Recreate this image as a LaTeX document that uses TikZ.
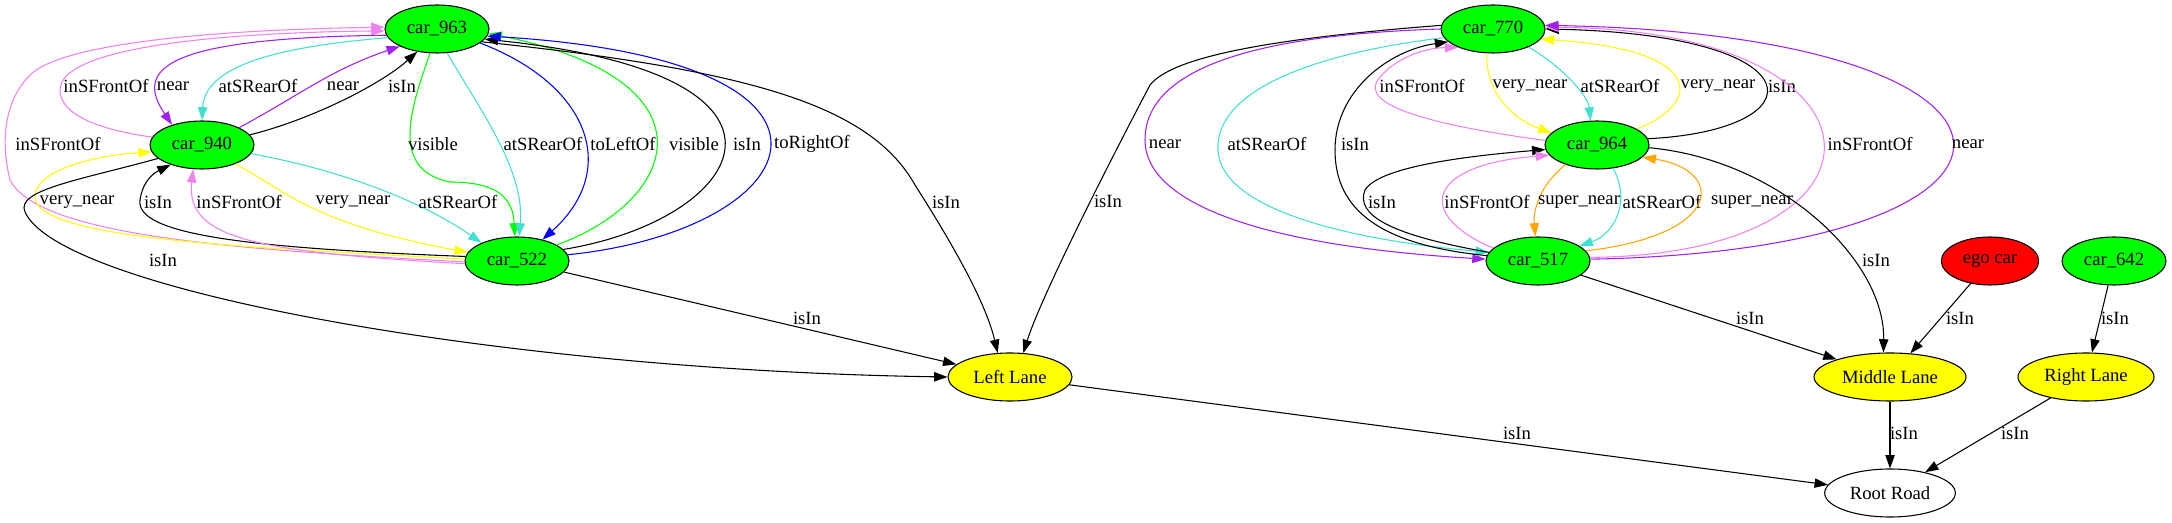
\documentclass[tikz,border=0pt]{standalone}
\usepackage{fontspec}
\setmainfont{Liberation Serif}
\usepackage{tikz}
\usetikzlibrary{shapes.geometric, arrows.meta}
\definecolor{gvGreen}{RGB}{0,255,0}
\definecolor{gvRed}{RGB}{255,0,0}
\definecolor{gvYellow}{RGB}{255,255,0}
\definecolor{gvViolet}{RGB}{238,130,238}
\definecolor{gvPurple}{RGB}{160,32,240}
\definecolor{gvTurquoise}{RGB}{64,224,208}
\definecolor{gvBlue}{RGB}{0,0,255}
\definecolor{gvOrange}{RGB}{255,165,0}
\tikzstyle{carNode} = [ellipse, draw=black, line width=0.8pt, fill=gvGreen, minimum width=78pt, minimum height=36pt, inner sep=0pt]
\tikzstyle{egoNode} = [carNode, fill=gvRed, minimum width=73pt]
\tikzstyle{laneNode} = [ellipse, draw=black, line width=0.8pt, fill=gvYellow, minimum height=36pt, inner sep=0pt]
\tikzstyle{roadNode} = [ellipse, draw=black, line width=0.8pt, fill=white, minimum width=98pt, minimum height=36pt, inner sep=0pt]
\tikzstyle{arrow} = [-{Triangle[length=10pt,width=7pt]}, line width=0.8pt]
\tikzstyle{edgeLabel} = [inner sep=0pt, text=black]

\begin{document}
\begin{tikzpicture}[x=0.75pt, y=-0.75pt, font=\fontsize{14}{17}\selectfont]
\useasboundingbox (0,0) rectangle (2172,523);

% cars and lanes
\node (c963) [carNode] at (437,29) {car\_963};
\node (c940) [carNode] at (202,145) {car\_940};
\node (c522) [carNode] at (517,261) {car\_522};
\node (c770) [carNode] at (1493,29) {car\_770};
\node (c964) [carNode] at (1597,145) {car\_964};
\node (c517) [carNode] at (1538,261) {car\_517};
\node (egoCar) [egoNode] at (1990,261) {ego car};
\node (c642) [carNode] at (2114,261) {car\_642};
\node (lLane) [laneNode, minimum width=93pt] at (1010,377) {Left Lane};
\node (mLane) [laneNode, minimum width=114pt] at (1890,377) {Middle Lane};
\node (rLane) [laneNode, minimum width=102pt] at (2086,377) {Right Lane};
\node (rootRoad) [roadNode] at (1890,493) {Root Road};

% left group
\draw [arrow, gvViolet] (c940.171) .. controls (100,130) and (60,115) .. (60,90) .. controls (60,50) and (200,33) .. (c963.182) node[edgeLabel] at (106,86) {inSFrontOf};
\draw [arrow, gvViolet] (c522.181) .. controls (250,250) and (40,238) .. (10,180) .. controls (0,140) and (5,100) .. (30,75) .. controls (60,45) and (200,30) .. (c963.178) node[edgeLabel] at (58,144) {inSFrontOf};
\draw [arrow, gvPurple] (c963.187) .. controls (160,38) and (135,70) .. (c940.146) node[edgeLabel] at (173,86) {near};
\draw [arrow, gvTurquoise] (c963.190) .. controls (300,45) and (205,60) .. (c940.90) node[edgeLabel] at (258,86) {atSRearOf};
\draw [arrow, gvPurple] (c940.25) .. controls (300,95) and (330,70) .. (c963.205) node[edgeLabel] at (343,86) {near};
\draw [arrow] (c940.12) .. controls (310,120) and (380,85) .. (c963.229) node[edgeLabel] at (402,86) {isIn};
\draw [arrow, gvGreen] (c963.254) .. controls (410,110) and (390,170) .. (450,182) .. controls (500,182) and (513,200) .. (c522.95) node[edgeLabel] at (433,144) {visible};
\draw [arrow, gvTurquoise] (c963.293) .. controls (480,110) and (525,170) .. (c522.85) node[edgeLabel] at (543,144) {atSRearOf};
\draw [arrow, gvBlue] (c963.342) .. controls (590,85) and (620,170) .. (c522.40) node[edgeLabel] at (623,144) {toLeftOf};
\draw [arrow, gvGreen] (c522.22) .. controls (680,200) and (720,80) .. (c963.355) node[edgeLabel] at (694,144) {visible};
\draw [arrow] (c522.14) .. controls (745,220) and (835,75) .. (c963.348) node[edgeLabel] at (747,144) {isIn};
\draw [arrow, gvBlue] (c522.7) .. controls (810,230) and (890,60) .. (c963.352) node[edgeLabel] at (812,144) {toRightOf};
\draw [arrow] (c963.344) .. controls (750,70) and (870,105) .. (915,185) .. controls (950,240) and (985,300) .. (lLane.117) node[edgeLabel] at (946,202) {isIn};
\draw [arrow, gvYellow] (c522.178) .. controls (250,247) and (30,240) .. (35,195) .. controls (38,168) and (100,155) .. (c940.188) node[edgeLabel] at (77,202) {very\_near};
\draw [arrow] (c940.197) .. controls (80,180) and (15,190) .. (25,212) .. controls (60,290) and (500,370) .. (lLane.180) node[edgeLabel] at (163,260) {isIn};
\draw [arrow] (c522.175) .. controls (250,248) and (135,235) .. (140,200) .. controls (142,185) and (150,175) .. (c940.212) node[edgeLabel] at (158,202) {isIn};
\draw [arrow, gvViolet] (c522.183) .. controls (260,252) and (185,240) .. (c940.250) node[edgeLabel] at (239,202) {inSFrontOf};
\draw [arrow, gvYellow] (c940.331) .. controls (290,195) and (320,225) .. (c522.170) node[edgeLabel] at (353,202) {very\_near};
\draw [arrow, gvTurquoise] (c940.350) .. controls (340,170) and (420,200) .. (c522.153) node[edgeLabel] at (458,202) {atSRearOf};
\draw [arrow] (c522) -- (lLane) node[edgeLabel] at (807,318) {isIn};

% right group
\draw [arrow] (c770.176) .. controls (1250,40) and (1170,60) .. (1150,85) .. controls (1100,180) and (1040,300) .. (lLane.61) node[edgeLabel] at (1108,201) {isIn};
\draw [arrow, gvPurple] (c770.180) .. controls (1250,35) and (1145,70) .. (1145,140) .. controls (1145,200) and (1250,245) .. (c517.178) node[edgeLabel] at (1165,144) {near};
\draw [arrow, gvTurquoise] (c770.190) .. controls (1300,55) and (1215,95) .. (1218,150) .. controls (1221,210) and (1350,240) .. (c517.170) node[edgeLabel] at (1267,144) {atSRearOf};
\draw [arrow] (c517.174) .. controls (1380,245) and (1335,210) .. (1335,150) .. controls (1335,90) and (1390,50) .. (c770.196) node[edgeLabel] at (1355,144) {isIn};
\draw [arrow, gvViolet] (c964.175) .. controls (1430,125) and (1360,105) .. (1378,80) .. controls (1390,62) and (1420,48) .. (c770.208) node[edgeLabel] at (1422,86) {inSFrontOf};
\draw [arrow, gvYellow] (c770.256) .. controls (1485,90) and (1510,118) .. (c964.165) node[edgeLabel] at (1530,86) {very\_near};
\draw [arrow, gvTurquoise] (c770.333) .. controls (1560,65) and (1588,95) .. (c964.105) node[edgeLabel] at (1620,86) {atSRearOf};
\draw [arrow, gvYellow] (c964.22) .. controls (1700,105) and (1710,50) .. (c770.348) node[edgeLabel] at (1718,86) {very\_near};
\draw [arrow] (c964.7) .. controls (1820,130) and (1820,35) .. (c770.0) node[edgeLabel] at (1782,86) {isIn};
\draw [arrow, gvViolet] (c517.4) .. controls (1910,255) and (1905,30) .. (c770.2) node[edgeLabel] at (1870,144) {inSFrontOf};
\draw [arrow, gvPurple] (c517.2) .. controls (2080,250) and (2080,35) .. (c770.4) node[edgeLabel] at (1968,144) {near};
\draw [arrow] (c964.357) .. controls (1780,160) and (1885,260) .. (mLane.105) node[edgeLabel] at (1876,260) {isIn};
\draw [arrow] (c517.170) .. controls (1390,235) and (1355,215) .. (1365,190) .. controls (1380,165) and (1480,155) .. (c964.185) node[edgeLabel] at (1382,202) {isIn};
\draw [arrow, gvViolet] (c517.164) .. controls (1415,215) and (1425,165) .. (c964.192) node[edgeLabel] at (1487,202) {inSFrontOf};
\draw [arrow, gvOrange] (c964.212) .. controls (1540,185) and (1533,210) .. (c517.96) node[edgeLabel] at (1579,202) {super\_near};
\draw [arrow, gvTurquoise] (c964.305) .. controls (1632,205) and (1612,235) .. (c517.20) node[edgeLabel] at (1662,202) {atSRearOf};
\draw [arrow, gvOrange] (c517.12) .. controls (1725,235) and (1725,170) .. (c964.345) node[edgeLabel] at (1752,202) {super\_near};
\draw [arrow] (c517) -- (mLane) node[edgeLabel] at (1750,318) {isIn};
\draw [arrow] (egoCar) -- (mLane) node[edgeLabel] at (1960,318) {isIn};
\draw [arrow] (c642) -- (rLane) node[edgeLabel] at (2115,318) {isIn};

% lanes to road
\draw [arrow] (mLane) -- (rootRoad) node[edgeLabel] at (1904,433) {isIn};
\draw [arrow] (rLane) -- (rootRoad) node[edgeLabel] at (2015,433) {isIn};
\draw [arrow] (lLane) -- (rootRoad) node[edgeLabel] at (1517,433) {isIn};
\end{tikzpicture}
\end{document}
